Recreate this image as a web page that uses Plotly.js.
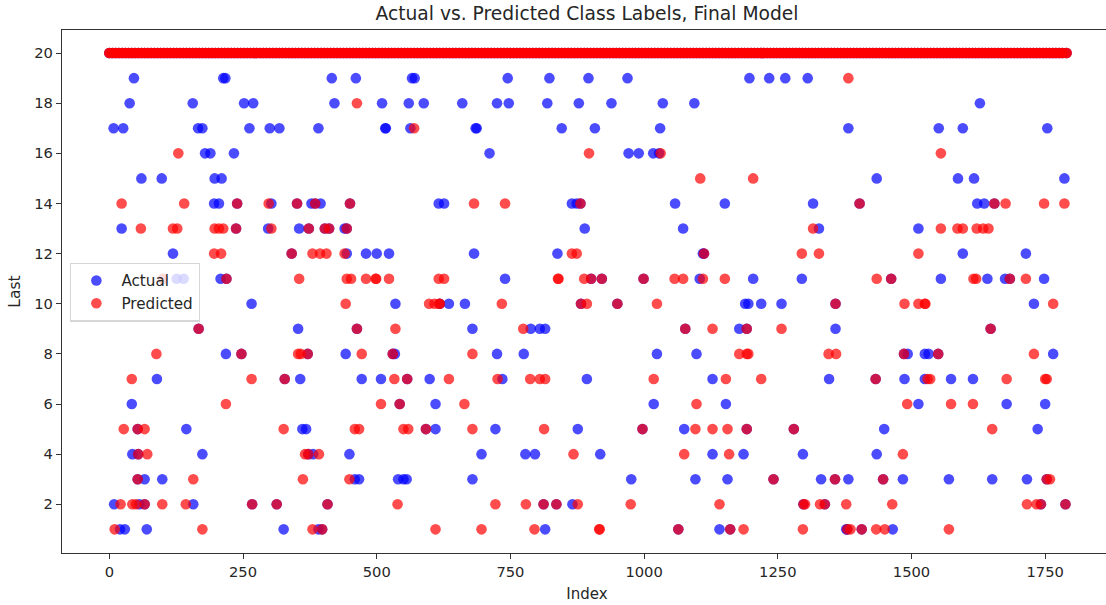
<!DOCTYPE html>
<html><head><meta charset="utf-8">
<script src="https://cdn.plot.ly/plotly-3.0.1.min.js"></script>
<style>html,body{margin:0;padding:0;background:#fff;overflow:hidden}#c{width:1112px;height:605px}</style>
</head><body><div id="c"></div>
<script>
const shared20=[0,6,12,18,24,30,36,42,48,54,60,66,72,78,84,90,96,102,108,114,120,126,132,138,144,150,156,162,168,174,180,186,192,198,204,210,216,222,228,234,240,246,252,258,264,270,276,282,288,294,300,306,312,318,324,330,336,342,348,354,360,366,372,378,384,390,396,402,408,414,420,426,432,438,444,450,456,462,468,474,480,486,492,498,504,510,516,522,528,534,540,546,552,558,564,570,576,582,588,594,600,606,612,618,624,630,636,642,648,654,660,666,672,678,684,690,696,702,708,714,720,726,732,738,744,750,756,762,768,774,780,786,792,798,804,810,816,822,828,834,840,846,852,858,864,870,876,882,888,894,900,906,912,918,924,930,936,942,948,954,960,966,972,978,984,990,996,1002,1008,1014,1020,1026,1032,1038,1044,1050,1056,1062,1068,1074,1080,1086,1092,1098,1104,1110,1116,1122,1128,1134,1140,1146,1152,1158,1164,1170,1176,1182,1188,1194,1200,1206,1212,1218,1224,1230,1236,1242,1248,1254,1260,1266,1272,1278,1284,1290,1296,1302,1308,1314,1320,1326,1332,1338,1344,1350,1356,1362,1368,1374,1380,1386,1392,1398,1404,1410,1416,1422,1428,1434,1440,1446,1452,1458,1464,1470,1476,1482,1488,1494,1500,1506,1512,1518,1524,1530,1536,1542,1548,1554,1560,1566,1572,1578,1584,1590,1596,1602,1608,1614,1620,1626,1632,1638,1644,1650,1656,1662,1668,1674,1680,1686,1692,1698,1704,1710,1716,1722,1728,1734,1740,1746,1752,1758,1764,1770,1776,1782,1790];

const actual19=[46,213,217,416,461,566,571,745,823,896,969,1197,1234,1264,1306];
const actual18=[38,156,252,269,421,510,560,588,660,725,747,819,878,939,1035,1094,1628];
const actual17=[8,26,166,174,262,300,318,391,516,517,563,685,687,846,908,1030,1382,1551,1596,1754];
const actual16=[179,189,233,711,971,990,1017,1028];
const actual15=[60,98,197,210,1435,1587,1617,1786];
const actual14=[196,205,239,303,351,378,385,395,450,616,626,865,874,881,1058,1151,1316,1403,1623,1636,1655];
const actual13=[23,237,297,355,373,403,411,440,444,889,1073,1327,1513];
const actual12=[119,341,444,480,500,523,682,838,1110,1112,1596,1714];
const actual11=[126,139,208,219,740,901,921,999,1104,1204,1295,1462,1555,1642,1675,1684,1748];
const actual10=[266,535,618,635,665,882,950,1189,1195,1219,1257,1358,1729];
const actual9=[167,353,463,679,788,805,815,1077,1178,1192,1358,1648];
const actual8=[218,247,371,442,530,534,725,775,1024,1098,1486,1493,1525,1532,1550,1765];
const actual7=[89,328,357,472,508,557,599,735,893,1128,1346,1433,1487,1525,1574,1615];
const actual6=[42,543,610,1018,1153,1513,1678,1750];
const actual5=[53,144,361,368,592,610,722,876,997,1075,1192,1280,1449,1736];
const actual4=[43,54,174,372,381,449,696,778,796,918,1128,1186,1297,1435];
const actual3=[53,66,99,459,467,540,550,556,679,976,1096,1156,1242,1331,1357,1382,1447,1484,1570,1651,1716,1753];
const actual2=[9,56,66,157,267,313,408,812,836,866,1298,1338,1742,1788];
const actual1=[20,29,70,326,391,398,815,1064,1141,1161,1378,1380,1407,1465];

const predicted19=[1382];
const predicted18=[463];
const predicted17=[570];
const predicted16=[129,897,1031,1555];
const predicted15=[1105,1204];
const predicted14=[23,140,239,298,351,385,450,682,740,881,1403,1655,1676,1748,1786];
const predicted13=[59,119,127,197,205,213,237,303,373,403,411,444,1316,1555,1586,1596,1622,1634,1644];
const predicted12=[196,209,341,380,394,406,440,865,874,1112,1295,1327,1513];
const predicted11=[100,219,355,444,452,480,498,499,523,616,626,839,840,888,901,921,999,1057,1073,1110,1151,1435,1462,1616,1621,1684,1714];
const predicted10=[442,598,608,617,618,734,882,893,950,1024,1358,1487,1513,1525,1526,1765];
const predicted9=[167,463,535,774,1077,1128,1192,1257,1648];
const predicted8=[88,247,353,358,371,472,530,679,1178,1192,1195,1345,1359,1486,1550,1729];
const predicted7=[42,266,328,533,557,635,726,787,805,815,1018,1153,1219,1433,1530,1535,1678,1750,1753];
const predicted6=[218,508,543,664,1098,1492,1574,1615];
const predicted5=[27,53,66,326,459,467,550,559,592,679,813,997,1096,1128,1156,1192,1280,1651];
const predicted4=[54,71,366,372,392,868,1075,1159,1484];
const predicted3=[53,157,362,449,1242,1357,1447,1753,1759];
const predicted2=[21,43,50,66,99,143,267,313,408,539,722,779,812,836,876,975,1141,1298,1301,1329,1338,1378,1464,1716,1734,1742,1788];
const predicted1=[10,174,380,398,610,696,795,916,917,1064,1161,1186,1297,1380,1386,1407,1434,1450,1570];

const classes=[20,19,18,17,16,15,14,13,12,11,10,9,8,7,6,5,4,3,2,1];
const actualRows=[shared20,actual19,actual18,actual17,actual16,actual15,actual14,actual13,actual12,actual11,actual10,actual9,actual8,actual7,actual6,actual5,actual4,actual3,actual2,actual1];
const predictedRows=[shared20.concat(shared20),predicted19,predicted18,predicted17,predicted16,predicted15,predicted14,predicted13,predicted12,predicted11,predicted10,predicted9,predicted8,predicted7,predicted6,predicted5,predicted4,predicted3,predicted2,predicted1];
const xTicks=[0,250,500,750,1000,1250,1500,1750];
const yTicks=[2,4,6,8,10,12,14,16,18,20];

function series(rows){
  const x=[],y=[];
  rows.forEach((r,i)=>r.forEach(v=>{x.push(v);y.push(classes[i]);}));
  return {x,y};
}
const a=series(actualRows),p=series(predictedRows);
const font='"DejaVu Sans", sans-serif', ink='#262626';
const axis={showgrid:false,zeroline:false,showline:true,linecolor:'#333',linewidth:1.3,ticks:'outside',ticklen:5,tickwidth:1.2,tickcolor:'#333',
  tickfont:{family:font,size:14.7,color:ink}};
Plotly.newPlot('c',[
 {type:'scatter',mode:'markers',name:'Actual',x:a.x,y:a.y,marker:{color:'blue',size:10.6,opacity:0.7,line:{width:0}}},
 {type:'scatter',mode:'markers',name:'Predicted',x:p.x,y:p.y,marker:{color:'red',size:10.6,opacity:0.7,line:{width:0}}}
],{
 width:1112,height:605,autosize:false,
 margin:{l:62,r:0,t:30,b:52,pad:0},
 paper_bgcolor:'#fff',plot_bgcolor:'#fff',showlegend:true,
 font:{family:font,color:ink},
 title:{text:'Actual vs. Predicted Class Labels, Final Model',font:{family:font,size:18.7,color:ink},x:0.5,xref:'paper',xanchor:'center',y:0.977,yanchor:'middle'},
 xaxis:Object.assign({},axis,{range:[-88.5,1875],tickvals:xTicks,ticktext:xTicks.map(String),mirror:true,automargin:false,
   title:{text:'Index',font:{family:font,size:15,color:ink},standoff:9}}),
 yaxis:Object.assign({},axis,{range:[0.057,20.92],tickvals:yTicks,ticktext:yTicks.map(String),automargin:false,
   title:{text:'Last',font:{family:font,size:15.5,color:ink},standoff:9}}),
 legend:{x:0.0076,xanchor:'left',y:0.555,yanchor:'top',bgcolor:'rgba(255,255,255,0.8)',bordercolor:'rgba(204,204,204,0.8)',borderwidth:1.4,
   font:{family:font,size:15.2,color:ink},itemwidth:40,tracegroupgap:0,itemclick:false,entrywidth:80,entrywidthmode:'pixels'}
},{displayModeBar:false,responsive:false});
</script></body></html>
